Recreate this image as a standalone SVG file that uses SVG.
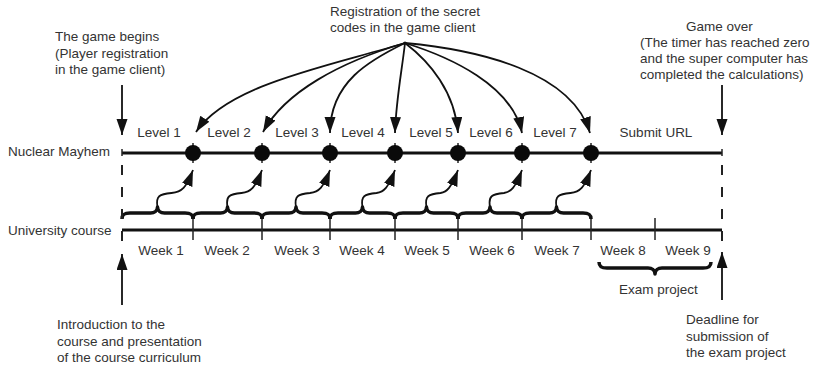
<svg xmlns="http://www.w3.org/2000/svg" width="814" height="365" viewBox="0 0 814 365">
  <defs>
    <marker id="head" markerUnits="userSpaceOnUse" markerWidth="18" markerHeight="13" refX="16" refY="5.5" orient="auto">
      <path d="M0,0 L16,5.5 L0,11 z" fill="#111"/>
    </marker>
    <style>
      text { font-family: "Liberation Sans", Arial, sans-serif; font-size: 13.5px; fill: #333; }
      .mid { text-anchor: middle; }
      .track { stroke: #111; stroke-width: 3; fill: none; }
      .tick { stroke: #222; stroke-width: 1.5; fill: none; }
      .dash { stroke: #222; stroke-width: 2; stroke-dasharray: 10 12; fill: none; }
      .brace { stroke: #111; stroke-width: 3.5; fill: none; stroke-linejoin: round; }
      .arrow { stroke: #111; stroke-width: 1.8; fill: none; marker-end: url(#head); }
      .dot { fill: #0a0a0a; }
    </style>
  </defs>
  <rect width="814" height="365" fill="#fff"/>

  <!-- game timeline -->
  <g id="nuclear-mayhem">
    <text x="8" y="156">Nuclear Mayhem</text>
    <line class="track" x1="122" y1="153" x2="722" y2="153"/>
    <line class="tick" x1="122" y1="149" x2="122" y2="156"/>
    <line class="tick" x1="722" y1="149" x2="722" y2="156"/>
    <text class="mid" x="159" y="137">Level 1</text>
    <text class="mid" x="229" y="137">Level 2</text>
    <text class="mid" x="297" y="137">Level 3</text>
    <text class="mid" x="363" y="137">Level 4</text>
    <text class="mid" x="431" y="137">Level 5</text>
    <text class="mid" x="491" y="137">Level 6</text>
    <text class="mid" x="555" y="137">Level 7</text>
    <text class="mid" x="656" y="137">Submit URL</text>
  </g>

  <!-- level checkpoints -->
  <g id="checkpoints">
    <g id="cp1"><line class="tick" x1="193" y1="143" x2="193" y2="163"/><circle class="dot" cx="193" cy="153" r="8"/></g>
    <g id="cp2"><line class="tick" x1="262" y1="143" x2="262" y2="163"/><circle class="dot" cx="262" cy="153" r="8"/></g>
    <g id="cp3"><line class="tick" x1="330" y1="143" x2="330" y2="163"/><circle class="dot" cx="330" cy="153" r="8"/></g>
    <g id="cp4"><line class="tick" x1="395" y1="143" x2="395" y2="163"/><circle class="dot" cx="395" cy="153" r="8"/></g>
    <g id="cp5"><line class="tick" x1="458" y1="143" x2="458" y2="163"/><circle class="dot" cx="458" cy="153" r="8"/></g>
    <g id="cp6"><line class="tick" x1="522" y1="143" x2="522" y2="163"/><circle class="dot" cx="522" cy="153" r="8"/></g>
    <g id="cp7"><line class="tick" x1="591" y1="143" x2="591" y2="163"/><circle class="dot" cx="591" cy="153" r="8"/></g>
  </g>

  <!-- course timeline -->
  <g id="university-course">
    <text x="8" y="234.5">University course</text>
    <line class="track" x1="122" y1="230" x2="722" y2="230"/>
    <line class="tick" x1="193" y1="218" x2="193" y2="240"/>
    <line class="tick" x1="262" y1="218" x2="262" y2="240"/>
    <line class="tick" x1="330" y1="218" x2="330" y2="240"/>
    <line class="tick" x1="395" y1="218" x2="395" y2="240"/>
    <line class="tick" x1="458" y1="218" x2="458" y2="240"/>
    <line class="tick" x1="522" y1="218" x2="522" y2="240"/>
    <line class="tick" x1="591" y1="218" x2="591" y2="240"/>
    <line class="tick" x1="655" y1="218" x2="655" y2="240"/>
    <text class="mid" x="161" y="255">Week 1</text>
    <text class="mid" x="227" y="255">Week 2</text>
    <text class="mid" x="297" y="255">Week 3</text>
    <text class="mid" x="362" y="255">Week 4</text>
    <text class="mid" x="427" y="255">Week 5</text>
    <text class="mid" x="492" y="255">Week 6</text>
    <text class="mid" x="557" y="255">Week 7</text>
    <text class="mid" x="623" y="255">Week 8</text>
    <text class="mid" x="688" y="255">Week 9</text>
  </g>

  <!-- weekly braces -->
  <g id="week-braces">
    <path class="brace" d="M122,219 C122,214 125,213 130,213 L150.5,213 C154.5,213 157.5,211 157.5,207 C157.5,211 160.5,213 164.5,213 L185,213 C190,213 193,214 193,219"/>
    <path class="brace" d="M193,219 C193,214 196,213 201,213 L220.5,213 C224.5,213 227.5,211 227.5,207 C227.5,211 230.5,213 234.5,213 L254,213 C259,213 262,214 262,219"/>
    <path class="brace" d="M262,219 C262,214 265,213 270,213 L289,213 C293,213 296,211 296,207 C296,211 299,213 303,213 L322,213 C327,213 330,214 330,219"/>
    <path class="brace" d="M330,219 C330,214 333,213 338,213 L355.5,213 C359.5,213 362.5,211 362.5,207 C362.5,211 365.5,213 369.5,213 L387,213 C392,213 395,214 395,219"/>
    <path class="brace" d="M395,219 C395,214 398,213 403,213 L419.5,213 C423.5,213 426.5,211 426.5,207 C426.5,211 429.5,213 433.5,213 L450,213 C455,213 458,214 458,219"/>
    <path class="brace" d="M458,219 C458,214 461,213 466,213 L483,213 C487,213 490,211 490,207 C490,211 493,213 497,213 L514,213 C519,213 522,214 522,219"/>
    <path class="brace" d="M522,219 C522,214 525,213 530,213 L549.5,213 C553.5,213 556.5,211 556.5,207 C556.5,211 559.5,213 563.5,213 L583,213 C588,213 591,214 591,219"/>
  </g>

  <!-- exam project -->
  <g id="exam-project">
    <path class="brace" d="M599,262 C599,267 602,268 607,268 L648,268 C652,268 655,270 655,274 C655,270 658,268 662,268 L703,268 C708,268 711,267 711,262"/>
    <text x="619" y="294">Exam project</text>
  </g>

  <!-- start and end markers -->
  <g id="boundaries">
    <line class="dash" x1="122" y1="165" x2="122" y2="246"/>
    <line class="dash" x1="722" y1="165" x2="722" y2="246"/>
  </g>

  <g id="game-begins">
    <text x="55" y="41">The game begins</text>
    <text x="55" y="57.5">(Player registration</text>
    <text x="55" y="74">in the game client)</text>
  </g>

  <g id="secret-codes">
    <text x="330" y="15.5">Registration of the secret</text>
    <text x="330" y="32">codes in the game client</text>
  </g>

  <g id="game-over">
    <text x="686" y="30.5">Game over</text>
    <text x="640" y="46.5">(The timer has reached zero</text>
    <text x="640" y="62.5">and the super computer has</text>
    <text x="640" y="79">completed the calculations)</text>
  </g>

  <g id="course-intro">
    <text x="57" y="329">Introduction to the</text>
    <text x="57" y="345.5">course and presentation</text>
    <text x="57" y="362">of the course curriculum</text>
  </g>

  <g id="deadline">
    <text x="686" y="324">Deadline for</text>
    <text x="686" y="340.5">submission of</text>
    <text x="686" y="357">the exam project</text>
  </g>

  <!-- connectors -->
  <g id="connectors">
    <line class="arrow" x1="122" y1="85" x2="122" y2="135"/>
    <line class="arrow" x1="722" y1="85" x2="722" y2="135"/>
    <line class="arrow" x1="122" y1="305" x2="122" y2="254"/>
    <line class="arrow" x1="722" y1="300" x2="722" y2="252"/>

    <circle cx="405" cy="43" r="1.6" fill="#111"/>
    <path class="arrow" d="M405,43 C330,66 228,84 196,132"/>
    <path class="arrow" d="M405,43 C340,62 285,92 263,132"/>
    <path class="arrow" d="M405,43 C370,60 330,82 330,133"/>
    <path class="arrow" d="M405,43 C402,70 396,100 395,133"/>
    <path class="arrow" d="M405,43 C430,62 455,92 458,133"/>
    <path class="arrow" d="M405,43 C450,57 512,85 522,133"/>
    <path class="arrow" d="M405,43 C480,50 572,72 590,133"/>

    <path class="arrow" d="M157.5,207 C155.5,196 159.5,194 171.5,193 C182,192 186,188 193,170"/>
    <path class="arrow" d="M227.5,207 C225.5,196 229.5,194 241.5,193 C251,192 255,188 262,170"/>
    <path class="arrow" d="M296,207 C294,196 298,194 310,193 C319,192 323,188 330,170"/>
    <path class="arrow" d="M362.5,207 C360.5,196 364.5,194 376.5,193 C384,192 388,188 395,170"/>
    <path class="arrow" d="M426.5,207 C424.5,196 428.5,194 440.5,193 C447,192 451,188 458,170"/>
    <path class="arrow" d="M490,207 C488,196 492,194 504,193 C511,192 515,188 522,170"/>
    <path class="arrow" d="M556.5,207 C554.5,196 558.5,194 570.5,193 C580,192 584,188 591,170"/>
  </g>
</svg>
